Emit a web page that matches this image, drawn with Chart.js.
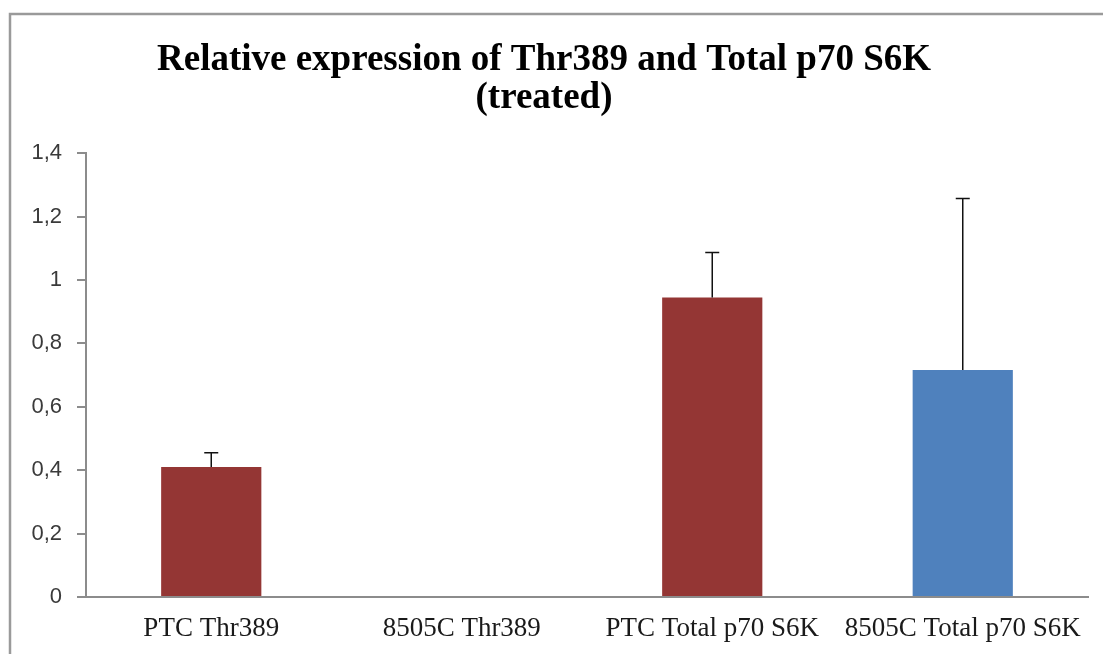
<!DOCTYPE html>
<html>
<head>
<meta charset="utf-8">
<script src="https://cdn.jsdelivr.net/npm/chart.js@4"></script>
<style>
  html, body { margin: 0; padding: 0; background: #fff; }
  #wrap { width: 1103px; height: 654px; position: relative; }
</style>
</head>
<body>
<div id="wrap"><canvas id="mycanvas" width="1103" height="654"></canvas></div>
<script>
var categorias = ['PTC Thr389', '8505C Thr389', 'PTC Total p70 S6K', '8505C Total p70 S6K'];
var valores = [0.41, 0, 0.945, 0.716];
var errorArriba = [0.455, null, 1.087, 1.257];
var colores = ['#943634', '#4F81BD', '#943634', '#4F81BD'];
var yTicks = [0, 0.2, 0.4, 0.6, 0.8, 1, 1.2, 1.4];

// marco gris alrededor del grafico
var marco = {
    id: 'marco',
    beforeDraw: function(chart){
        var ctx = chart.ctx;
        ctx.save();
        ctx.fillStyle = '#fff';
        ctx.fillRect(0, 0, chart.width, chart.height);
        ctx.strokeStyle = '#9a9a9a';
        ctx.lineWidth = 2.5;
        ctx.strokeRect(10, 14, chart.width + 20, chart.height + 20);
        ctx.restore();
    }
};

// barras de error (solo hacia arriba)
var barrasError = {
    id: 'barrasError',
    afterDatasetsDraw: function(chart){
        var ctx = chart.ctx;
        var meta = chart.getDatasetMeta(0);
        var y = chart.scales.y;
        ctx.save();
        ctx.strokeStyle = '#111';
        ctx.lineWidth = 1.5;
        for (var i = 0; i < errorArriba.length; i++){
            if (errorArriba[i] === null) continue;
            var x = meta.data[i].x;
            var y0 = y.getPixelForValue(valores[i]);
            var y1 = y.getPixelForValue(errorArriba[i]);
            ctx.beginPath();
            ctx.moveTo(x, y0);
            ctx.lineTo(x, y1);
            ctx.moveTo(x - 7, y1);
            ctx.lineTo(x + 7, y1);
            ctx.stroke();
        }
        ctx.restore();
    }
};

var chartdata = {
    labels: categorias,
    datasets: [{
        label: 'Relative expression',
        backgroundColor: colores,
        borderWidth: 0,
        data: valores,
        categoryPercentage: 1,
        barPercentage: 0.4
    }]
};

var ctx = document.getElementById('mycanvas');
var barGraph = new Chart(ctx, {
    type: 'bar',
    data: chartdata,
    plugins: [marco, barrasError],
    options: {
        responsive: false,
        animation: false,
        layout: { padding: { left: 0, right: 15, top: 0, bottom: 7 } },
        plugins: {
            legend: { display: false },
            tooltip: { enabled: false },
            title: {
                display: true,
                text: ['Relative expression of Thr389 and Total p70 S6K', '(treated)'],
                color: '#000',
                font: { family: '"Liberation Serif", "Times New Roman", serif', size: 37, weight: 'bold', lineHeight: 1.03 },
                padding: { top: 41, bottom: 36 }
            }
        },
        scales: {
            x: {
                afterFit: function(scale){ scale.height = 50; },
                grid: { display: false, drawTicks: false },
                border: { display: true, color: '#8c8c8c', width: 2 },
                ticks: {
                    color: '#1a1a1a',
                    autoSkip: false,
                    maxRotation: 0,
                    padding: 16,
                    font: { family: '"Liberation Serif", "Times New Roman", serif', size: 27 }
                }
            },
            y: {
                min: 0,
                max: 1.4,
                afterFit: function(scale){ scale.width = 86; },
                afterBuildTicks: function(scale){
                    scale.ticks = yTicks.map(function(v){ return { value: v }; });
                },
                grid: { drawOnChartArea: false, drawTicks: true, tickLength: 9, color: '#8c8c8c', lineWidth: 2 },
                border: { display: true, color: '#8c8c8c', width: 2 },
                ticks: {
                    color: '#3a3a3a',
                    padding: 15,
                    font: { family: '"Liberation Sans", Arial, sans-serif', size: 22 },
                    callback: function(v){ return String(Math.round(v * 10) / 10).replace('.', ','); }
                }
            }
        }
    }
});
</script>
</body>
</html>
